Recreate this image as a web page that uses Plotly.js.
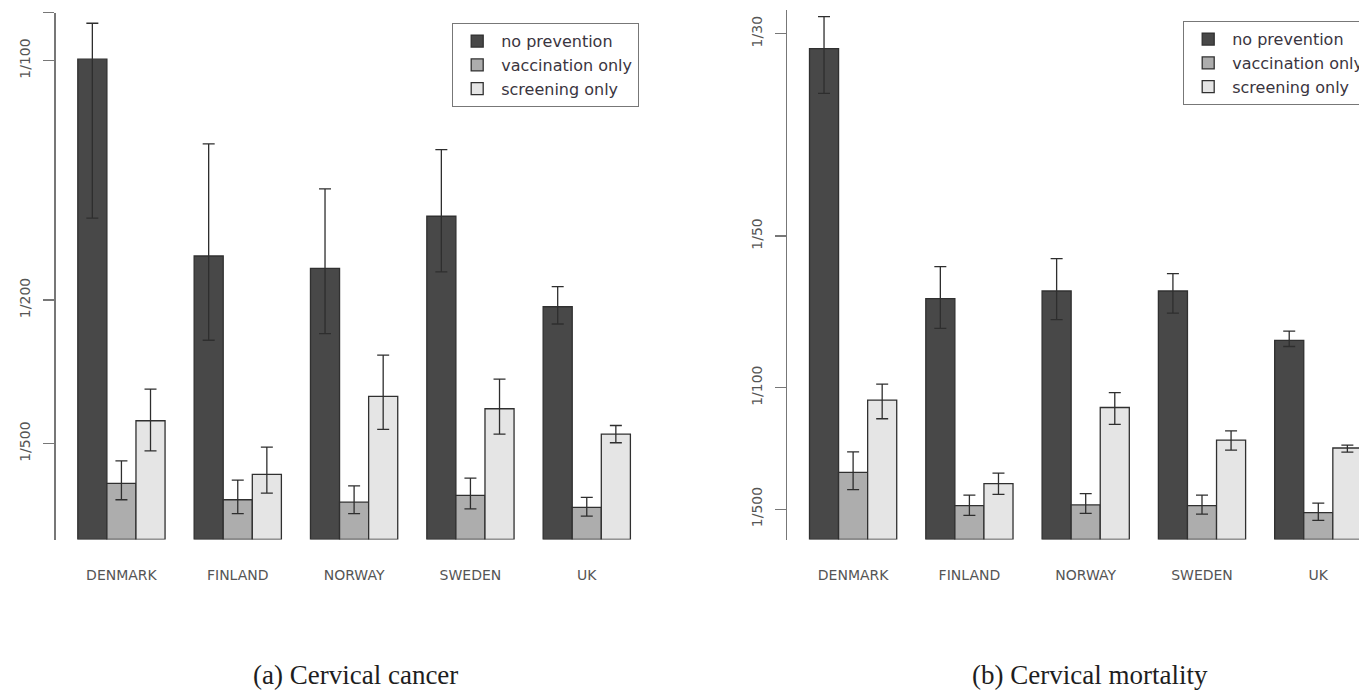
<!DOCTYPE html>
<html>
<head>
<meta charset="utf-8">
<script src="https://cdn.plot.ly/plotly-3.0.1.min.js"></script>
<style>html,body{margin:0;padding:0;background:#fff;}#chart{width:1359px;height:693px;}</style>
</head>
<body>
<div id="chart"></div>
<script>
// ---- data ----
var categories = ['DENMARK', 'FINLAND', 'NORWAY', 'SWEDEN', 'UK'];
var seriesNames = ['no prevention', 'vaccination only', 'screening only'];

// (a) Cervical cancer: lifetime risk
var cancerNoPrev     = [0.01003, 0.00592, 0.00566, 0.00675, 0.00486];
var cancerNoPrevHi   = [0.01078, 0.00826, 0.00732, 0.00814, 0.00528];
var cancerNoPrevLo   = [0.00671, 0.00416, 0.00430, 0.00559, 0.00450];
var cancerVacc       = [0.00117, 0.00083, 0.00078, 0.00092, 0.00067];
var cancerVaccHi     = [0.00164, 0.00124, 0.00112, 0.00128, 0.00088];
var cancerVaccLo     = [0.00083, 0.00054, 0.00054, 0.00064, 0.00049];
var cancerScreen     = [0.00248, 0.00136, 0.00299, 0.00273, 0.00220];
var cancerScreenHi   = [0.00314, 0.00193, 0.00385, 0.00335, 0.00238];
var cancerScreenLo   = [0.00185, 0.00097, 0.00230, 0.00220, 0.00202];

// (b) Cervical mortality
var mortNoPrev       = [0.03236, 0.01588, 0.01638, 0.01638, 0.01312];
var mortNoPrevHi     = [0.03446, 0.01798, 0.01851, 0.01752, 0.01373];
var mortNoPrevLo     = [0.02941, 0.01391, 0.01449, 0.01492, 0.01272];
var mortVacc         = [0.00442, 0.00223, 0.00228, 0.00223, 0.00177];
var mortVaccHi       = [0.00577, 0.00293, 0.00303, 0.00293, 0.00240];
var mortVaccLo       = [0.00329, 0.00159, 0.00172, 0.00167, 0.00126];
var mortScreen       = [0.00919, 0.00368, 0.00870, 0.00655, 0.00603];
var mortScreenHi     = [0.01024, 0.00437, 0.00968, 0.00716, 0.00622];
var mortScreenLo     = [0.00796, 0.00298, 0.00759, 0.00589, 0.00576];

var cancerTickVals = [0.002, 0.005, 0.01, 0.011];
var cancerTickText = ['1/500', '1/200', '1/100', ''];
var mortTickVals   = [0.002, 0.01, 0.02, 1 / 30];
var mortTickText   = ['1/500', '1/100', '1/50', '1/30'];

var captionA = '(a) Cervical cancer';
var captionB = '(b) Cervical mortality';

// ---- styling ----
var fills = ['#484848', '#adadad', '#e5e5e5'];
var W = 1359, H = 693;

function mk(vals, hi, lo, i, xa, ya, leg) {
  return {
    type: 'bar',
    x: categories,
    y: vals,
    name: seriesNames[i],
    xaxis: xa, yaxis: ya,
    legend: leg,
    marker: {color: fills[i], line: {color: '#303030', width: 1.3}},
    error_y: {
      type: 'data', symmetric: false,
      array: vals.map(function (v, k) { return hi[k] - v; }),
      arrayminus: vals.map(function (v, k) { return v - lo[k]; }),
      color: '#2e2e2e', thickness: 1.3, width: 6
    },
    hoverinfo: 'skip'
  };
}

var traces = [
  mk(cancerNoPrev, cancerNoPrevHi, cancerNoPrevLo, 0, 'x', 'y', 'legend'),
  mk(cancerVacc, cancerVaccHi, cancerVaccLo, 1, 'x', 'y', 'legend'),
  mk(cancerScreen, cancerScreenHi, cancerScreenLo, 2, 'x', 'y', 'legend'),
  mk(mortNoPrev, mortNoPrevHi, mortNoPrevLo, 0, 'x2', 'y2', 'legend2'),
  mk(mortVacc, mortVaccHi, mortVaccLo, 1, 'x2', 'y2', 'legend2'),
  mk(mortScreen, mortScreenHi, mortScreenLo, 2, 'x2', 'y2', 'legend2')
];

var tickFont = {family: 'DejaVu Sans, sans-serif', size: 14, color: '#555'};
var xBase = {
  type: 'category', showline: false, showgrid: false, zeroline: false,
  ticks: '', tickfont: {family: 'DejaVu Sans, sans-serif', size: 14, color: '#555'},
  ticklabelstandoff: 25, fixedrange: true
};
var yBase = {
  showline: true, linecolor: '#777', linewidth: 1.3, showgrid: false, zeroline: false,
  ticks: 'outside', ticklen: 11, tickwidth: 1.3, tickcolor: '#777',
  tickmode: 'array', tickangle: -90, tickfont: tickFont, ticklabelstandoff: 8,
  fixedrange: true
};

var yBot = (H - 539.5) / H;
var legendBase = {
  bgcolor: '#fff', bordercolor: '#777', borderwidth: 1.2,
  font: {family: 'DejaVu Sans, sans-serif', size: 16, color: '#3a3540'},
  xanchor: 'left', yanchor: 'top', traceorder: 'normal',
  itemwidth: 38
};

var captionFont = {family: 'Liberation Serif, Times New Roman, serif', size: 27, color: '#1e1e1e'};

var layout = {
  width: W, height: H,
  margin: {l: 0, r: 0, t: 0, b: 0, autoexpand: false},
  paper_bgcolor: '#fff', plot_bgcolor: '#fff',
  barmode: 'group', bargap: 0.25, bargroupgap: 0,
  showlegend: true,
  xaxis: Object.assign({}, xBase, {domain: [55.7 / W, 652.5 / W], range: [-0.565, 4.565], anchor: 'y'}),
  yaxis: Object.assign({}, yBase, {domain: [yBot, (H - 12.7) / H], range: [0, 0.011],
    tickvals: cancerTickVals, ticktext: cancerTickText, anchor: 'x'}),
  xaxis2: Object.assign({}, xBase, {domain: [787.4 / W, 1], range: [-0.565, 4.35], anchor: 'y2'}),
  yaxis2: Object.assign({}, yBase, {domain: [yBot, (H - 10) / H], range: [0, 0.0349],
    tickvals: mortTickVals, ticktext: mortTickText, anchor: 'x2'}),
  legend: Object.assign({}, legendBase, {x: 452 / W, y: (H - 23) / H}),
  legend2: Object.assign({}, legendBase, {x: 1183 / W, y: (H - 21) / H}),
  annotations: [
    {text: captionA, xref: 'paper', yref: 'paper', x: 355 / W, y: (H - 675) / H,
     xanchor: 'center', yanchor: 'middle', showarrow: false, font: captionFont},
    {text: captionB, xref: 'paper', yref: 'paper', x: 1090 / W, y: (H - 675) / H,
     xanchor: 'center', yanchor: 'middle', showarrow: false, font: captionFont}
  ]
};

Plotly.newPlot('chart', traces, layout, {displayModeBar: false, staticPlot: true});
</script>
</body>
</html>
